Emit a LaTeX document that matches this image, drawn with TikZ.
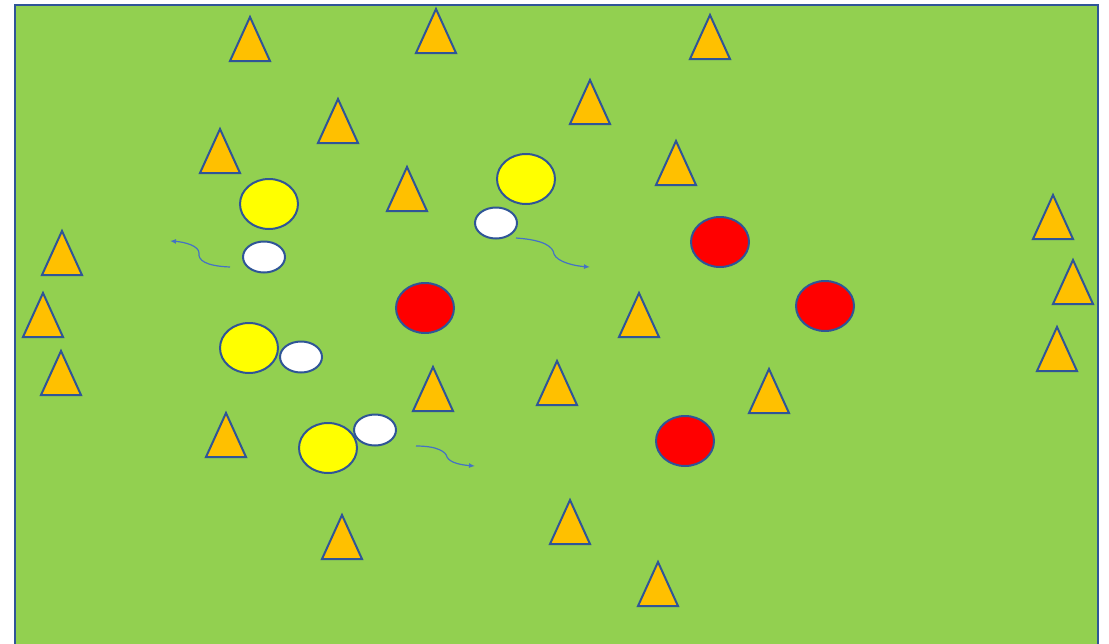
\documentclass[tikz,border=0pt]{standalone}
\usetikzlibrary{shapes.geometric,arrows.meta}
\definecolor{field}{HTML}{92D050}
\definecolor{cone}{HTML}{FFC000}
\definecolor{edge}{HTML}{2F5597}
\definecolor{arr}{HTML}{4472C4}
\definecolor{ybright}{HTML}{FFFF00}
\definecolor{rbright}{HTML}{FF0000}
\tikzset{
  ballyel/.style={ellipse,draw=edge,line width=2pt,fill=ybright,minimum width=58pt,minimum height=50pt,inner sep=0pt},
  ballred/.style={ellipse,draw=edge,line width=2pt,fill=rbright,minimum width=58pt,minimum height=50pt,inner sep=0pt},
  ballwht/.style={ellipse,draw=edge,line width=2pt,fill=white,minimum width=42pt,minimum height=31pt,inner sep=0pt},
  conestyle/.style={draw=edge,line width=2pt,fill=cone,line join=miter},
  runarrow/.style={draw=arr,line width=1.2pt,-{Latex[length=6pt,width=5pt]}}
}
\begin{document}
\begin{tikzpicture}[x=1pt,y=-1pt]
\useasboundingbox (0,0) rectangle (1109,643);
\fill[white] (0,0) rectangle (1109,643);
\draw[draw=edge,fill=field,line width=2.5pt] (15,5) -- (1098,5) -- (1098,660) -- (15,660) -- cycle;
% cones: center x, apex y
\foreach \cx/\ay in {250/17,436/9,710/15,590/80,338/99,220/129,676/141,407/167,1053/195,62/231,1073/260,43/293,639/293,1057/327,61/351,557/361,433/367,769/369,226/413,570/500,342/515,658/562}{
  \draw[conestyle] (\cx,\ay) -- (\cx+20,\ay+44) -- (\cx-20,\ay+44) -- cycle;
}
% balls
\node[ballyel] (y1) at (269,204) {};
\node[ballyel] (y2) at (526,179) {};
\node[ballyel] (y3) at (249,348) {};
\node[ballyel] (y4) at (328,448) {};
\node[ballwht] (w1) at (264,257) {};
\node[ballwht] (w2) at (496,223) {};
\node[ballwht] (w3) at (301,357) {};
\node[ballwht] (w4) at (375,430) {};
\node[ballred] (r1) at (720,242) {};
\node[ballred] (r2) at (425,308) {};
\node[ballred] (r3) at (825,306) {};
\node[ballred] (r4) at (685,441) {};
% runs
\coordinate (a1s) at (230,267);
\coordinate (a1e) at (170,241);
\coordinate (a2s) at (516,238);
\coordinate (a2e) at (590,267);
\coordinate (a3s) at (416,446);
\coordinate (a3e) at (475,466);
\draw[runarrow] (a1s) .. controls (205,266) and (198,260) .. (199,253) .. controls (199,246) and (185,242) .. (a1e);
\draw[runarrow] (a2s) .. controls (545,240) and (553,247) .. (554,254) .. controls (557,262) and (575,266) .. (a2e);
\draw[runarrow] (a3s) .. controls (438,446) and (446,452) .. (447,457) .. controls (450,463) and (462,465) .. (a3e);
\end{tikzpicture}
\end{document}
